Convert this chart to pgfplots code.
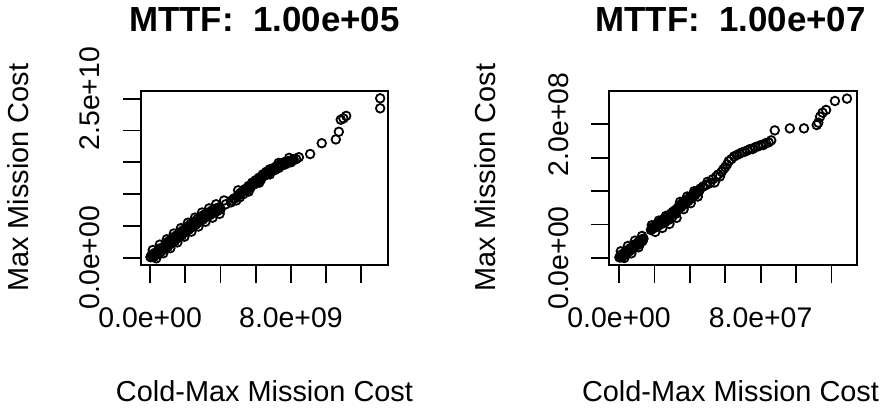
\documentclass[border=0pt]{standalone}
\usepackage{fontspec}
\setmainfont{Liberation Sans}
\usepackage{pgfplots}
\pgfplotsset{compat=1.18}

\pgfplotsset{
  every axis title/.style={anchor=base},
  rpanel/.style={
    scale only axis,
    anchor=south west,
    clip=false,
    axis line style={line width=1.8bp},
    tick align=outside,
    major tick length=18bp,
    every tick/.style={line width=1.8bp, black},
    xtick pos=bottom, ytick pos=left,
    xtick={0,2,...,12},
    xticklabel style={anchor=base, yshift=-44bp, font=\fontsize{28.5}{30}\selectfont},
    yticklabel style={rotate=90, anchor=base, yshift=23bp, font=\fontsize{28.5}{30}\selectfont},
    label style={font=\fontsize{29}{31}\selectfont},
    title style={font=\bfseries\fontsize{35}{38}\selectfont},
    xlabel={Cold-Max Mission Cost},
    ylabel={Max Mission Cost},
  },
  rpts/.style={only marks, mark=o, mark size=4.3bp, line width=1.8bp, draw=black,
    mark options={line width=1.8bp, draw=black, fill=none}},
}

\begin{document}
\begin{tikzpicture}
\useasboundingbox (0,0) rectangle (887bp,408bp);

% left panel, values in units of 1e9
\begin{axis}[rpanel,
  at={(140.7bp,143bp)}, width=247.6bp, height=174.3bp,
  xmin=-0.534, xmax=13.53, ymin=-1.15, ymax=26.26,
  xticklabels={0.0e+00,,,,8.0e+09,,},
  ytick={0,5,...,25},
  yticklabels={0.0e+00,,,,,2.5e+10},
  title={MTTF:\ \ 1.00e+05},
  title style={at={(axis description cs:0.5,1.3385)}},
  xlabel style={at={(axis description cs:0.5,-0.784)}, anchor=base},
  ylabel style={at={(axis description cs:-0.455,0.5)}, anchor=base},
]
\addplot[rpts] coordinates {
  (0.02,0.1) (0.1,0.5) (0.2,0.1) (0.3,0.8) (0.4,0.5) (0.5,1.4) (0.6,0.9)
  (0.7,1.6) (0.8,1.3) (0.9,2.3) (1.0,1.7) (1.1,2.7) (1.2,2.2) (1.3,3.2)
  (1.4,2.6) (1.5,3.5) (1.6,3.1) (1.7,4.0) (1.8,3.5) (1.9,4.4) (2.0,4.0)
  (2.1,4.9) (2.2,4.4) (2.3,5.3) (2.4,4.8) (2.5,5.7) (2.6,5.2) (2.7,6.1)
  (2.8,5.6) (2.9,6.5) (3.0,6.0) (3.1,6.8) (3.2,6.4) (3.3,7.1) (3.4,6.7)
  (3.5,7.4) (3.6,7.0) (3.7,7.7) (3.8,7.3) (3.9,7.9) (4.0,7.6)
  (0.15,1.2) (0.35,-0.1) (0.55,2.05) (0.75,0.7) (0.95,2.9) (1.15,1.5)
  (1.35,3.8) (1.55,2.4) (1.75,4.65) (1.95,3.3) (2.15,5.5) (2.35,4.1)
  (2.55,6.3) (2.75,4.9) (2.95,7.1) (3.15,5.65) (3.35,7.75) (3.55,6.3)
  (3.75,8.4) (3.95,6.9)
  (0.05,0.1) (0.15,0.3) (0.25,0.5) (0.35,0.7) (0.45,0.9) (0.55,1.2)
  (0.65,1.4) (0.75,1.6) (0.85,1.8) (0.95,2.0) (1.05,2.2) (1.15,2.4)
  (1.25,2.65) (1.35,2.9) (1.45,3.1) (1.55,3.3) (1.65,3.5) (1.75,3.75)
  (1.85,4.0) (1.95,4.2) (2.05,4.4) (2.15,4.6) (2.25,4.8) (2.35,5.0)
  (2.45,5.2) (2.55,5.4) (2.65,5.6) (2.75,5.8) (2.85,6.0) (2.95,6.2)
  (3.05,6.4) (3.15,6.5) (3.25,6.7) (3.35,6.9) (3.45,7.0) (3.55,7.2)
  (3.65,7.3) (3.75,7.5) (3.85,7.7) (3.95,7.8)
  (4.2,9.0) (4.3,8.4)
  (4.6,8.7) (4.75,9.3) (4.9,9.0) (5.0,9.8) (5.1,9.5) (5.2,10.3) (5.3,10.0)
  (5.4,10.8) (5.5,10.6) (5.6,11.3) (5.7,11.0) (5.8,11.8) (5.9,11.5)
  (6.0,12.2) (6.1,11.9) (6.2,12.6) (6.3,12.3) (6.4,13.1) (6.5,12.9)
  (6.6,13.5) (6.7,13.2) (6.8,13.9) (6.9,13.6) (7.0,14.1) (7.1,13.8)
  (7.2,14.4) (7.3,14.1) (7.4,14.7) (7.5,14.5) (7.6,15.0) (7.7,14.7)
  (7.85,15.2) (8.0,15.0) (8.15,15.5) (8.3,15.5)
  (4.65,9.0) (4.8,9.3) (4.95,9.6) (5.1,10.1) (5.25,10.4) (5.4,10.7)
  (5.55,11.0) (5.7,11.3) (5.85,11.7) (6.0,12.0) (6.15,12.3) (6.3,12.7)
  (6.45,13.0) (6.6,13.3) (6.75,13.6) (6.9,13.8) (7.05,14.0) (7.2,14.25)
  (7.35,14.5) (7.5,14.7) (7.65,14.9) (7.8,15.05) (7.95,15.2) (8.1,15.3)
  (5.0,10.6) (5.6,10.4) (6.2,11.8) (6.8,13.1) (7.3,14.9) (7.9,15.7)
  (8.45,15.8)
  (9.09,16.3) (9.75,18.0) (10.55,18.6) (10.72,19.8) (10.83,21.7)
  (10.98,21.9) (11.14,22.3) (13.07,25.06) (13.07,23.49)
};
\end{axis}

% right panel, values in units of 1e7
\begin{axis}[rpanel,
  at={(609.3bp,143bp)}, width=247.4bp, height=174.3bp,
  xmin=-0.55, xmax=13.43, ymin=-1.05, ymax=25.04,
  xticklabels={0.0e+00,,,,8.0e+07,,},
  ytick={0,5,...,20},
  yticklabels={0.0e+00,,,,2.0e+08},
  title={MTTF:\ \ 1.00e+07},
  title style={at={(axis description cs:0.49,1.3385)}},
  xlabel style={at={(axis description cs:0.49,-0.784)}, anchor=base},
  ylabel style={at={(axis description cs:-0.458,0.5)}, anchor=base},
]
\addplot[rpts] coordinates {
  (0.02,0.1) (0.1,0.4) (0.15,0.1) (0.2,0.6) (0.28,0.4) (0.35,0.9)
  (0.42,0.7) (0.5,1.2) (0.58,1.0) (0.65,1.5) (0.72,1.3) (0.8,1.8)
  (0.88,1.6) (0.95,2.1) (1.02,1.9) (1.1,2.4) (1.18,2.2) (1.25,2.7)
  (1.32,2.5) (1.38,2.9)
  (0.1,1.0) (0.3,0.0) (0.5,1.8) (0.7,0.7) (0.9,2.6) (1.1,1.6) (1.3,3.3)
  (0.05,0.1) (0.15,0.3) (0.25,0.5) (0.35,0.7) (0.45,0.9) (0.55,1.1)
  (0.65,1.35) (0.75,1.55) (0.85,1.75) (0.95,1.95) (1.05,2.15) (1.15,2.35)
  (1.25,2.55) (1.35,2.75)
  (1.8,4.2) (1.9,4.6) (2.0,4.5) (2.1,5.0) (2.2,4.8) (2.3,5.3) (2.4,5.1)
  (2.5,5.6) (2.6,5.4) (2.7,5.9) (2.8,5.7) (2.9,6.3) (3.0,6.1) (3.1,6.7)
  (3.2,6.6) (3.3,7.2)
  (1.85,4.9) (2.05,3.9) (2.25,5.6) (2.45,4.5) (2.65,6.3) (2.85,5.1)
  (3.05,6.9) (3.25,6.0) (3.45,8.4) (3.65,7.3) (3.85,9.2) (4.05,8.2)
  (4.25,10.0) (4.45,9.2)
  (1.85,4.4) (1.95,4.6) (2.05,4.8) (2.15,5.0) (2.25,5.2) (2.35,5.4)
  (2.45,5.65) (2.55,5.85) (2.65,6.05) (2.75,6.25) (2.85,6.45) (2.95,6.65)
  (3.05,6.9) (3.15,7.1) (3.25,7.3) (3.35,7.5) (3.45,7.75) (3.55,7.95)
  (3.65,8.2) (3.75,8.4) (3.85,8.6) (3.95,8.85) (4.05,9.05) (4.15,9.3)
  (4.25,9.5) (4.35,9.75) (4.45,9.95) (4.55,10.2)
  (3.4,7.9) (3.5,7.6) (3.6,8.3) (3.7,8.0) (3.8,8.7) (3.9,8.5) (4.0,9.1)
  (4.1,8.9) (4.2,9.6) (4.3,9.4) (4.4,10.0) (4.5,9.9) (4.6,10.4)
  (4.75,10.7) (4.9,10.9) (5.0,11.4) (5.15,11.2) (5.3,11.8) (5.4,11.3)
  (5.5,12.2) (5.6,12.5) (5.7,12.2) (5.8,12.9) (5.9,13.3) (6.0,13.6)
  (6.1,14.0)
  (6.2,14.5) (6.35,14.8) (6.5,15.2) (6.65,15.4) (6.8,15.6) (6.95,15.8)
  (7.1,15.9) (7.25,16.1) (7.4,16.3) (7.55,16.3) (7.7,16.6) (7.85,16.7)
  (8.0,16.9) (8.15,16.9) (8.3,17.2) (8.45,17.3) (8.6,17.6)
  (8.8,19.1) (9.65,19.4) (10.45,19.4) (11.17,19.9) (11.26,20.25)
  (11.36,21.15) (11.5,21.75) (11.7,22.16) (12.2,23.5) (12.88,23.85)
};
\end{axis}
\end{tikzpicture}
\end{document}
